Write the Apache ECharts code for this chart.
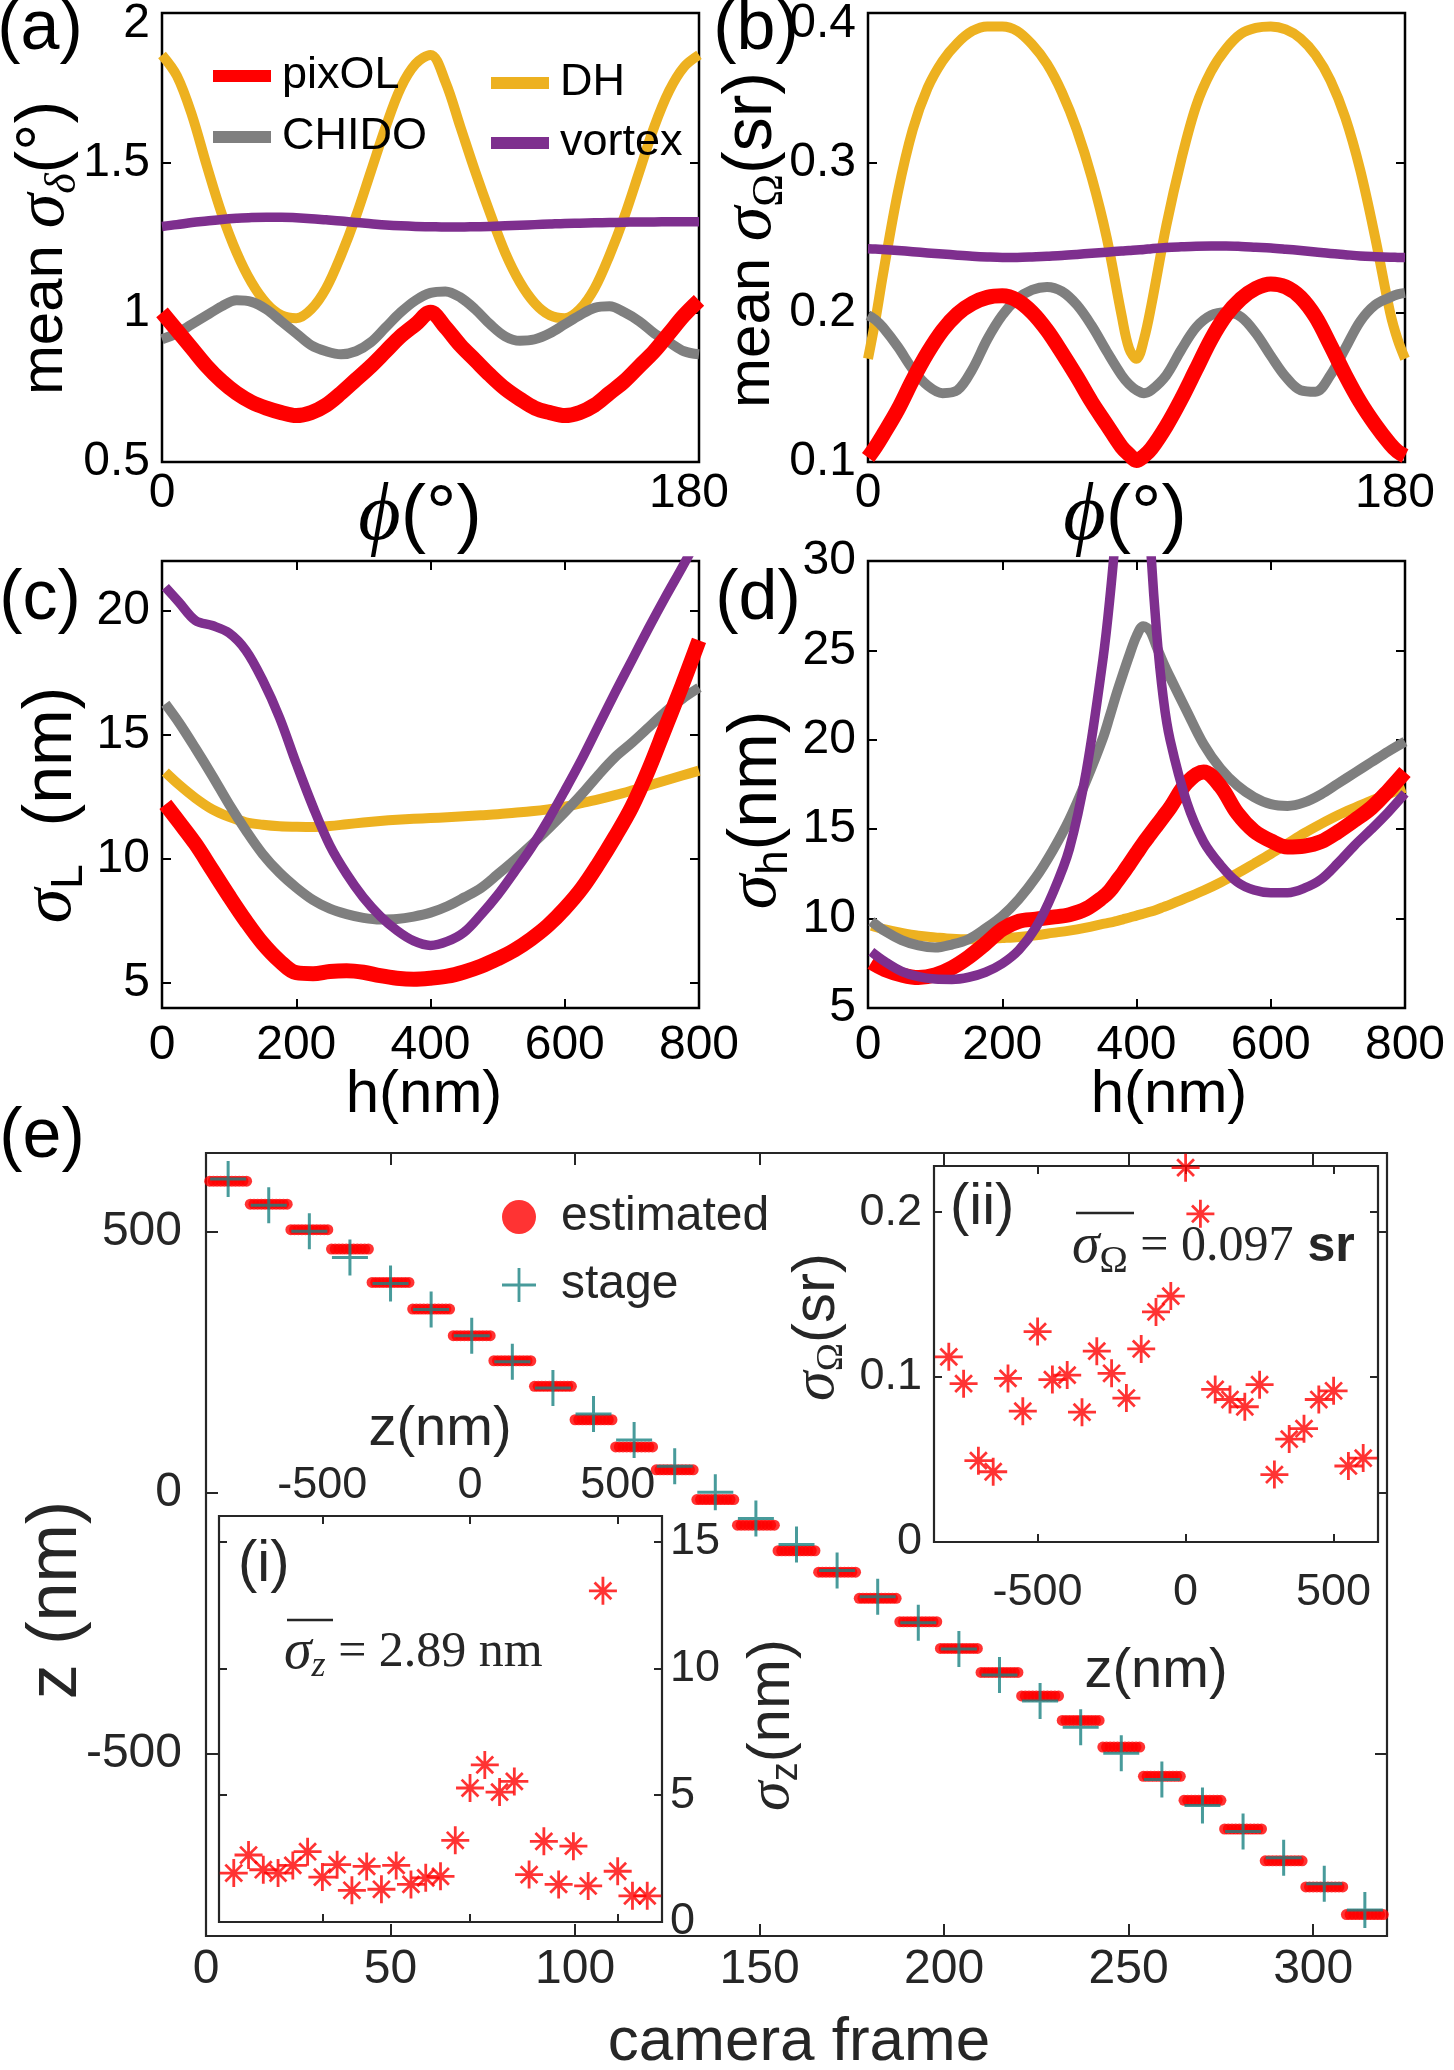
<!DOCTYPE html>
<html>
<head>
<meta charset="utf-8">
<script src="https://cdn.jsdelivr.net/npm/echarts@6/dist/echarts.min.js"></script>
<style>html,body{margin:0;padding:0;background:#fff}#c{width:1454px;height:2070px}</style>
</head>
<body>
<div id="c"></div>
<script>
// ---------------- DATA ----------------
// (a) mean sigma_delta (deg) vs phi
const phiA = [0,5,10,15,20,25,30,35,40,45,50,55,60,65,70,75,80,85,90,95,100,105,110,115,120,125,130,135,140,145,150,155,160,165,170,175,180];
const pixOL_a = [1.00,0.94,0.88,0.82,0.77,0.73,0.70,0.68,0.665,0.655,0.665,0.69,0.73,0.775,0.82,0.87,0.92,0.96,1.00,0.95,0.89,0.84,0.79,0.745,0.71,0.68,0.665,0.655,0.665,0.69,0.73,0.77,0.82,0.87,0.93,0.99,1.04];
const DH_a = [1.86,1.79,1.66,1.49,1.33,1.20,1.10,1.03,0.99,0.98,1.01,1.08,1.19,1.32,1.47,1.62,1.75,1.83,1.86,1.77,1.62,1.47,1.33,1.20,1.10,1.03,0.99,0.98,1.01,1.08,1.19,1.32,1.47,1.62,1.74,1.82,1.86];
const CHIDO_a = [0.91,0.93,0.96,0.99,1.02,1.04,1.035,1.01,0.97,0.93,0.89,0.87,0.86,0.87,0.90,0.95,1.00,1.04,1.065,1.07,1.05,1.01,0.96,0.92,0.905,0.91,0.93,0.96,0.99,1.015,1.02,1.00,0.97,0.93,0.90,0.87,0.86];
const vortex_a = [1.287,1.293,1.300,1.305,1.310,1.314,1.317,1.318,1.318,1.316,1.313,1.309,1.305,1.300,1.296,1.292,1.289,1.287,1.286,1.285,1.285,1.286,1.287,1.289,1.291,1.293,1.295,1.297,1.298,1.299,1.300,1.301,1.302,1.302,1.303,1.303,1.303];

// (b) mean sigma_Omega (sr) vs phi
const phiB = [0,2.5,5,10,15,20,25,30,35,40,45,50,55,60,65,70,75,80,85,87.5,90,92.5,95,100,105,110,115,120,125,130,135,140,145,150,155,160,165,170,175,177.5,180];
const pixOL_b = [0.103,0.110,0.118,0.135,0.155,0.173,0.188,0.199,0.206,0.210,0.211,0.208,0.200,0.188,0.173,0.157,0.140,0.125,0.110,0.105,0.101,0.104,0.109,0.124,0.142,0.162,0.182,0.198,0.209,0.216,0.219,0.217,0.210,0.197,0.178,0.158,0.140,0.125,0.112,0.107,0.104];
const DH_b = [0.169,0.195,0.225,0.280,0.322,0.350,0.368,0.380,0.388,0.391,0.391,0.388,0.379,0.366,0.347,0.322,0.290,0.250,0.198,0.176,0.169,0.182,0.205,0.258,0.302,0.338,0.361,0.376,0.386,0.390,0.391,0.389,0.383,0.372,0.355,0.330,0.295,0.250,0.200,0.182,0.169];
const CHIDO_b = [0.198,0.195,0.190,0.177,0.162,0.151,0.146,0.148,0.162,0.182,0.198,0.209,0.215,0.217,0.214,0.205,0.191,0.174,0.158,0.152,0.148,0.146,0.148,0.158,0.175,0.190,0.198,0.200,0.197,0.186,0.171,0.157,0.148,0.147,0.158,0.176,0.194,0.205,0.210,0.212,0.213];
const vortex_b = [0.2425,0.2423,0.2420,0.2413,0.2405,0.2397,0.2390,0.2382,0.2375,0.2370,0.2367,0.2367,0.2370,0.2375,0.2380,0.2387,0.2395,0.2402,0.2410,0.2413,0.2417,0.2420,0.2425,0.2433,0.2438,0.2442,0.2443,0.2443,0.2440,0.2435,0.2430,0.2422,0.2413,0.2403,0.2393,0.2385,0.2377,0.2372,0.2368,0.2367,0.2366];

// (c) sigma_L (nm) vs h
const hC = [5,25,50,75,100,125,150,175,200,225,250,275,300,325,350,375,400,425,450,475,500,525,550,575,600,625,650,675,700,725,750,775,800];
const pixOL_c = [12.2,11.5,10.6,9.55,8.5,7.5,6.6,5.9,5.42,5.38,5.47,5.5,5.44,5.3,5.2,5.16,5.2,5.28,5.45,5.68,5.98,6.33,6.78,7.32,8.0,8.8,9.8,10.9,12.1,13.6,15.3,17.0,18.8];
const DH_c = [13.5,13.0,12.45,12.0,11.7,11.48,11.38,11.32,11.3,11.29,11.33,11.4,11.47,11.53,11.58,11.62,11.65,11.68,11.72,11.76,11.8,11.86,11.92,12.0,12.11,12.25,12.4,12.57,12.76,12.96,13.16,13.36,13.56];
const CHIDO_c = [16.25,15.5,14.45,13.35,12.2,11.15,10.2,9.45,8.85,8.35,8.0,7.78,7.63,7.56,7.58,7.68,7.84,8.1,8.45,8.83,9.38,9.95,10.56,11.2,11.88,12.6,13.38,14.1,14.68,15.3,15.93,16.45,16.9];
const vortex_c = [20.95,20.35,19.6,19.4,19.1,18.4,17.2,15.7,13.85,12.1,10.55,9.4,8.45,7.7,7.12,6.7,6.52,6.68,7.05,7.75,8.55,9.48,10.45,11.55,12.75,14.0,15.35,16.7,18.0,19.3,20.55,21.75,23.0];

// (d) sigma_h (nm) vs h
const hD = [5,25,50,75,100,125,150,175,200,225,250,275,300,325,350,360,370,380,390,400,410,420,430,440,450,475,500,525,550,575,600,625,650,675,700,725,750,775,800];
const pixOL_d = [7.55,7.15,6.85,6.7,6.85,7.25,7.85,8.6,9.4,9.85,9.97,10.08,10.22,10.55,11.2,11.55,12.05,12.55,13.1,13.65,14.2,14.7,15.2,15.7,16.2,17.6,18.2,17.4,15.9,14.9,14.35,14.0,14.05,14.3,14.85,15.5,16.2,17.15,18.2];
const DH_d = [9.6,9.4,9.2,9.04,8.95,8.87,8.84,8.86,8.91,8.97,9.07,9.2,9.33,9.5,9.7,9.77,9.86,9.96,10.06,10.17,10.27,10.38,10.5,10.64,10.78,11.17,11.57,12.02,12.53,13.07,13.62,14.2,14.78,15.3,15.78,16.2,16.6,16.97,17.3];
const CHIDO_d = [9.85,9.3,8.8,8.5,8.38,8.55,8.85,9.45,10.15,11.1,12.3,13.8,15.55,17.7,20.1,21.3,22.55,23.7,24.8,25.8,26.35,26.1,25.2,24.3,23.5,21.6,19.75,18.4,17.45,16.8,16.4,16.3,16.5,16.95,17.55,18.15,18.75,19.35,19.9];
const vortex_d = [8.15,7.6,7.05,6.75,6.62,6.6,6.72,7.0,7.48,8.25,9.5,11.4,13.9,18.2,24.5,27.8,32,38,45,46,40,31.5,26,22.3,20.0,16.5,14.3,13.0,12.05,11.6,11.45,11.45,11.7,12.2,13.1,14.1,15.0,15.95,17.0];

// (e) z vs camera frame
const stageFrame = [6,17,28,39,50,61,72,83,94,105,116,127,138,149,160,171,182,193,204,215,226,237,248,259,270,281,292,303,314];
const stageZ = [600,550,500,450,400,350,300,250,200,150,100,50,0,-50,-100,-150,-200,-250,-300,-350,-400,-450,-500,-550,-600,-650,-700,-750,-800];
const estimatedMean = [596,552,503,466,402,351,300,252,203,139,87,43,-14,-63,-112,-153,-203,-248,-299,-345,-390,-437,-488,-544,-590,-645,-706,-756,-809];
const framesPerStep = 11;

// insets (i) sigma_z and (ii) sigma_Omega vs z
const zInset = [-800,-750,-700,-650,-600,-550,-500,-450,-400,-350,-300,-250,-200,-150,-100,-50,0,50,100,150,200,250,300,350,400,450,500,550,600];
const sigmaZ = [1.93,2.64,2.06,1.93,2.23,2.77,1.77,2.26,1.25,2.19,1.29,2.23,1.48,1.74,1.80,3.22,5.28,6.19,5.12,5.54,1.87,3.18,1.48,2.99,1.42,13.05,2.0,1.03,1.03];
const sigmaOmega = [0.1123,0.096,0.0493,0.0426,0.0992,0.0793,0.1276,0.0985,0.1012,0.0787,0.1157,0.1023,0.0873,0.1171,0.1395,0.1491,0.227,0.199,0.0925,0.0864,0.082,0.0954,0.0409,0.0624,0.0687,0.0864,0.0917,0.0461,0.0509];

// tick values
const ticksPhi = [0,180];
const ticksA_y = [0.5,1,1.5,2];
const ticksB_y = [0.1,0.2,0.3,0.4];
const ticksH = [0,200,400,600,800];
const ticksC_y = [5,10,15,20];
const ticksD_y = [5,10,15,20,25,30];
const ticksFrame = [0,50,100,150,200,250,300];
const ticksZ = [-500,0,500];
const ticksSz = [0,5,10,15];
const ticksSo = [0,0.1,0.2];

// ---------------- STYLE ----------------
const FONT = 'Liberation Sans';
const SERIF = 'Liberation Serif';
const COL = {pixOL:'#ff0000', DH:'#edb120', CHIDO:'#7f7f7f', vortex:'#7e2f8e'};
const LW = {pixOL:15, DH:10, CHIDO:10, vortex:9.5};
const TEAL = '#1a8282';
const DARK = '#262626';
const TICKFS = 48;
const PLUS = 'path://M11,0h2v11h11v2h-11v11h-2v-11h-11v-2h11z';
const STAR = 'path://M45,0h10v100h-10zM0,45h100v10h-100zM16.5,23.5L23.5,16.5L83.5,76.5L76.5,83.5zM76.5,16.5L83.5,23.5L23.5,83.5L16.5,76.5z';

const grids = [
  {left:162, top:12, width:537, height:450},
  {left:868, top:12, width:537, height:450},
  {left:162, top:561, width:537, height:447},
  {left:868, top:561, width:537, height:447},
  {left:206, top:1153, width:1181, height:783, borderColor:DARK, borderWidth:2.2},
  {left:219, top:1516, width:443, height:406, z:10, borderColor:DARK, borderWidth:2.2},
  {left:934, top:1166, width:444, height:376, z:10, borderColor:DARK, borderWidth:2.2}
].map(g => Object.assign({show:true, borderColor:'#000', borderWidth:2.5, backgroundColor:'#fff', containLabel:false}, g));

function ax(gi, min, max, ticks, pos, show, o) {
  o = o || {};
  const col = o.color || '#000';
  const lab = {show:show, customValues:ticks, fontSize:o.fs || TICKFS, fontFamily:FONT, color:col, margin:(o.m == null ? 10 : o.m)};
  if (o.formatter) { lab.formatter = o.formatter; lab.rich = o.rich; }
  const a = {
    type:'value', gridIndex:gi, min:min, max:max, position:pos,
    axisLine:{show:false, onZero:false}, splitLine:{show:false},
    axisTick:{show:true, inside:true, length:o.tl || 9, lineStyle:{color:col, width:2}, customValues:ticks},
    axisLabel:lab
  };
  if (o.z != null) a.z = o.z;
  return a;
}
const richLab = (extra) => Object.assign({fontSize:TICKFS, fontFamily:FONT, color:'#000'}, extra);
const topShift = {top:richLab({padding:[22,0,0,0]})};
const rightEnd = {r:richLab({padding:[0,20,0,0]})};

const xAxis = [
  ax(0,0,180,ticksPhi,'bottom',true,{m:8, formatter:v => v===180 ? '{r|180}' : String(v), rich:rightEnd}),
  ax(0,0,180,ticksPhi,'top',false),
  ax(1,0,180,ticksPhi,'bottom',true,{m:8, formatter:v => v===180 ? '{r|180}' : String(v), rich:rightEnd}),
  ax(1,0,180,ticksPhi,'top',false),
  ax(2,0,800,ticksH,'bottom',true,{m:14}),
  ax(2,0,800,ticksH,'top',false),
  ax(3,0,800,ticksH,'bottom',true,{m:14}),
  ax(3,0,800,ticksH,'top',false),
  ax(4,0,320,ticksFrame,'bottom',true,{m:10, tl:12, color:DARK}),
  ax(4,0,320,ticksFrame,'top',false,{tl:12, color:DARK}),
  ax(5,-850,650,ticksZ,'top',true,{m:8, tl:8, color:DARK, z:11, fs:45}),
  ax(5,-850,650,ticksZ,'bottom',false,{tl:8, color:DARK, z:11}),
  ax(6,-850,650,ticksZ,'bottom',true,{m:28, tl:8, color:DARK, z:11, fs:45}),
  ax(6,-850,650,ticksZ,'top',false,{tl:8, color:DARK, z:11})
];
const yAxis = [
  ax(0,0.5,2,ticksA_y,'left',true,{m:12, formatter:v => v===2 ? '{top|2}' : String(v), rich:topShift}),
  ax(0,0.5,2,ticksA_y,'right',false),
  ax(1,0.1,0.4,ticksB_y,'left',true,{m:12, formatter:v => v>0.39 ? '{top|0.4}' : String(v), rich:topShift}),
  ax(1,0.1,0.4,ticksB_y,'right',false),
  ax(2,4,22,ticksC_y,'left',true,{m:12}),
  ax(2,4,22,ticksC_y,'right',false),
  ax(3,5,30,ticksD_y,'left',true,{m:12}),
  ax(3,5,30,ticksD_y,'right',false),
  ax(4,-850,650,ticksZ,'left',true,{m:24, tl:12, color:DARK}),
  ax(4,-850,650,ticksZ,'right',false,{tl:12, color:DARK}),
  ax(5,0,16,ticksSz,'right',true,{m:8, tl:8, color:DARK, z:11, fs:45}),
  ax(5,0,16,ticksSz,'left',false,{tl:8, color:DARK, z:11}),
  ax(6,0,0.228,ticksSo,'left',true,{m:12, tl:8, color:DARK, z:11, fs:45}),
  ax(6,0,0.228,ticksSo,'right',false,{tl:8, color:DARK, z:11})
];

const zip = (xs, ys) => xs.map((x, i) => [x, ys[i]]);
function lineSeries(name, axisIdx, xs, ys) {
  return {
    type:'line', name:name, xAxisIndex:axisIdx, yAxisIndex:axisIdx,
    data:zip(xs, ys), symbol:'none', smooth:0.35, clip:true, z:2,
    lineStyle:{color:COL[name], width:LW[name], cap:'butt', join:'round'},
    itemStyle:{color:COL[name]}, emphasis:{disabled:true}
  };
}
const panels = [
  {idx:0, xs:phiA, d:{pixOL:pixOL_a, DH:DH_a, CHIDO:CHIDO_a, vortex:vortex_a}},
  {idx:2, xs:phiB, d:{pixOL:pixOL_b, DH:DH_b, CHIDO:CHIDO_b, vortex:vortex_b}},
  {idx:4, xs:hC, d:{pixOL:pixOL_c, DH:DH_c, CHIDO:CHIDO_c, vortex:vortex_c}},
  {idx:6, xs:hD, d:{pixOL:pixOL_d, DH:DH_d, CHIDO:CHIDO_d, vortex:vortex_d}}
];
const series = [];
panels.forEach(p => {
  ['DH','CHIDO','pixOL','vortex'].forEach(n => series.push(lineSeries(n, p.idx, p.xs, p.d[n])));
});

// (e) estimated points: each stage step holds for framesPerStep frames around stageFrame
const estPts = [];
const half = (framesPerStep - 1) / 2;
estimatedMean.forEach((z, k) => {
  for (let j = -half; j <= half; j++) estPts.push([stageFrame[k] + j, z]);
});
series.push({type:'scatter', name:'estimated', xAxisIndex:8, yAxisIndex:8, data:estPts,
  symbol:'circle', symbolSize:11, itemStyle:{color:'#ff0000'}, z:3, emphasis:{disabled:true}});
series.push({type:'scatter', name:'stage', xAxisIndex:8, yAxisIndex:8, data:zip(stageFrame, stageZ),
  symbol:PLUS, symbolSize:36, itemStyle:{color:TEAL}, z:4, emphasis:{disabled:true}});
series.push({type:'scatter', name:'sigma_z', xAxisIndex:10, yAxisIndex:10, data:zip(zInset, sigmaZ),
  symbol:STAR, symbolSize:28, itemStyle:{color:'#ff0000'}, z:12, emphasis:{disabled:true}});
series.push({type:'scatter', name:'sigma_Omega', xAxisIndex:12, yAxisIndex:12, data:zip(zInset, sigmaOmega),
  symbol:STAR, symbolSize:28, itemStyle:{color:'#ff0000'}, z:12, emphasis:{disabled:true}});

const legTxt = {fontSize:45, fontFamily:FONT, color:'#000', lineHeight:46, padding:[0,0,0,6]};
const legend = [
  {orient:'vertical', left:213, top:53, padding:0, itemWidth:58, itemHeight:12, itemGap:15, icon:'rect',
   selectedMode:false, data:['pixOL','CHIDO'], textStyle:legTxt},
  {orient:'vertical', left:491, top:60, padding:0, itemWidth:58, itemHeight:12, itemGap:14, icon:'rect',
   selectedMode:false, data:['DH','vortex'], textStyle:legTxt},
  {orient:'vertical', left:502, top:1193, padding:0, itemWidth:34, itemHeight:34, itemGap:20, selectedMode:false,
   data:[{name:'estimated', icon:'circle'}, {name:'stage', icon:PLUS}],
   textStyle:{fontSize:48, fontFamily:FONT, color:DARK, lineHeight:48, padding:[0,0,0,20]}}
];

// ---------------- TEXT ----------------
function txt(x, y, text, rich, rot, align) {
  return {type:'text', x:x, y:y, rotation:rot ? Math.PI/2 : 0, z:20, silent:true,
    style:{text:text, rich:rich, align:align || 'center', textAlign:align || 'center', verticalAlign:'middle', textVerticalAlign:'middle', fill:'#000'}};
}
const R = (fs, fam, extra) => Object.assign({fontSize:fs, fontFamily:fam, fill:'#000'}, extra || {});
const RD = (fs, fam, extra) => Object.assign({fontSize:fs, fontFamily:fam, fill:DARK}, extra || {});
const titleRich = {
  t:R(60, FONT), q:R(68, FONT), s:R(70, SERIF, {fontStyle:'italic'}),
  subS:R(44, SERIF, {fontStyle:'italic', padding:[36,0,0,0]}),
  subU:R(44, SERIF, {padding:[36,0,0,0]}),
  subF:R(44, FONT, {padding:[36,0,0,0]}),
  p:R(82, SERIF, {fontStyle:'italic'}), pt:R(76, FONT), h:R(60, FONT)
};
const eRich = {
  t:RD(62, FONT), ye:RD(70, FONT), s:RD(56, SERIF, {fontStyle:'italic'}), s2:RD(60, SERIF, {fontStyle:'italic'}),
  subF:RD(38, FONT, {padding:[30,0,0,0]}), subU:RD(38, SERIF, {padding:[30,0,0,0]}),
  subI:RD(36, SERIF, {fontStyle:'italic', padding:[28,0,0,0]}),
  n:RD(56, FONT), n2:RD(60, FONT), a:RD(50, SERIF), b:RD(50, FONT, {fontWeight:'bold'}), lab:RD(58, FONT)
};
const labRich = {l:R(70, FONT)};

const graphic = [
  txt(40, 30, '{l|(a)}', labRich), txt(756, 30, '{l|(b)}', labRich),
  txt(40, 600, '{l|(c)}', labRich), txt(758, 600, '{l|(d)}', labRich),
  txt(42, 1138, '{l|(e)}', labRich),
  txt(45, 248, '{t|mean }{s|σ}{subS|δ}{q|(°)}', titleRich, true),
  txt(752, 240, '{t|mean }{s|σ}{subU|Ω}{q|(sr)}', titleRich, true),
  txt(52, 805, '{s|σ}{subF|L}{q|  (nm)}', titleRich, true),
  txt(757, 810, '{s|σ}{subF|h}{q|(nm)}', titleRich, true),
  txt(420, 517, '{p|ϕ}{pt|(°)}', titleRich),
  txt(1125, 517, '{p|ϕ}{pt|(°)}', titleRich),
  txt(424, 1095, '{h|h(nm)}', titleRich),
  txt(1169, 1095, '{h|h(nm)}', titleRich),
  txt(57, 1600, '{ye|z (nm)}', eRich, true),
  txt(799, 2043, '{t|camera frame}', eRich),
  txt(440, 1430, '{n|z(nm)}', eRich),
  txt(772, 1725, '{s2|σ}{subF|z}{n2|(nm)}', eRich, true),
  txt(817, 1327, '{s2|σ}{subU|Ω}{n2|(sr)}', eRich, true),
  txt(1156, 1672, '{n|z(nm)}', eRich),
  txt(238, 1565, '{lab|(i)}', eRich, false, 'left'),
  txt(950, 1208, '{lab|(ii)}', eRich, false, 'left'),
  txt(284, 1653, '{s|σ}{subI|z}{a| = 2.89 nm}', eRich, false, 'left'),
  txt(1072, 1247, '{s|σ}{subU|Ω}{a| = 0.097}{b| sr}', eRich, false, 'left'),
  {type:'line', z:20, silent:true, shape:{x1:287, y1:1620, x2:333, y2:1620}, style:{stroke:DARK, lineWidth:2.5}},
  {type:'line', z:20, silent:true, shape:{x1:1076, y1:1213, x2:1134, y2:1213}, style:{stroke:DARK, lineWidth:2.5}}
];

const chart = echarts.init(document.getElementById('c'), null, {renderer:'canvas', width:1454, height:2070});
chart.setOption({
  animation:false,
  backgroundColor:'#fff',
  grid:grids, xAxis:xAxis, yAxis:yAxis, series:series, legend:legend, graphic:graphic
});
</script>
</body>
</html>
